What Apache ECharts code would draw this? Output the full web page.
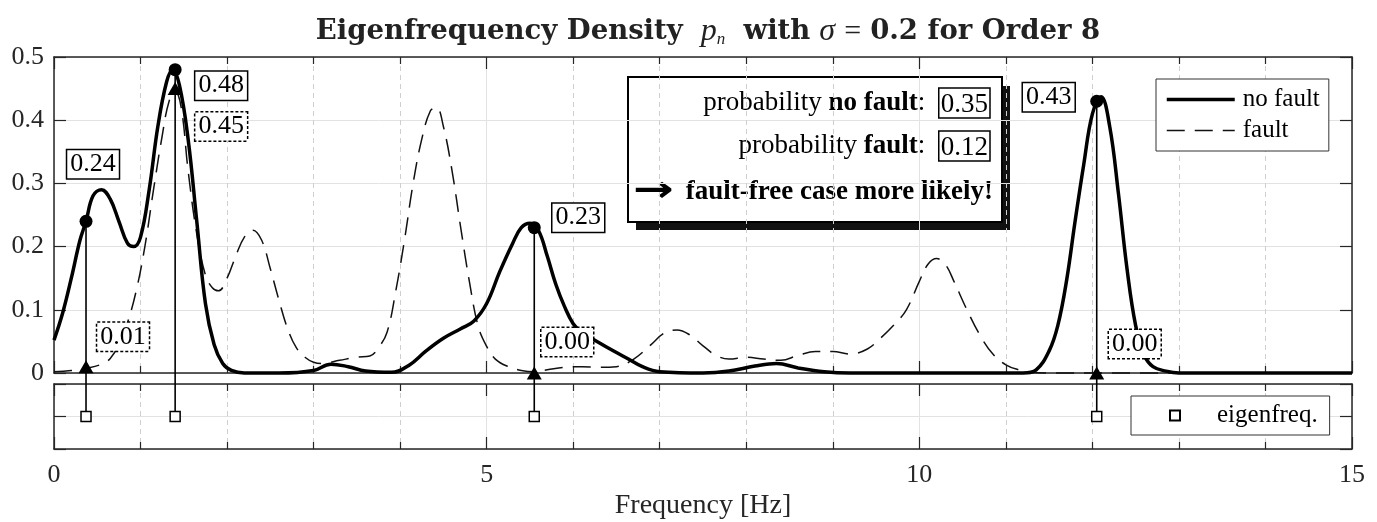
<!DOCTYPE html>
<html>
<head>
<meta charset="utf-8">
<script src="https://cdn.jsdelivr.net/npm/echarts@6/dist/echarts.min.js"></script>
<style>
  html, body { margin: 0; padding: 0; background: #fff; }
  #graph { width: 1377px; height: 522px; }
</style>
</head>
<body>
<div id="graph"></div>
<script>
// values
const fNoFault = [0, 0.1, 0.2, 0.3, 0.37, 0.45, 0.55, 0.65, 0.75, 0.85, 0.92, 1.0, 1.1, 1.2, 1.3, 1.37, 1.45, 1.55, 1.65, 1.75,
  1.85, 1.95, 2.05, 2.2, 2.6, 3.0, 3.2, 3.4, 3.6, 3.9, 4.1, 4.3, 4.5, 4.7, 4.85, 5.0, 5.15, 5.3, 5.4, 5.5,
  5.6, 5.7, 5.8, 5.9, 6.0, 6.1, 6.25, 6.4, 6.6, 6.8, 7.0, 7.5, 7.8, 8.1, 8.35, 8.6, 8.9, 9.2, 11.2, 11.35,
  11.5, 11.6, 11.7, 11.8, 11.9, 12.0, 12.1, 12.2, 12.3, 12.4, 12.5, 12.6, 12.7, 12.85, 13.0, 15.0];
const pNoFault = [0.052, 0.095, 0.15, 0.21, 0.24, 0.28, 0.29, 0.275, 0.24, 0.205, 0.2, 0.215, 0.29, 0.39, 0.46, 0.48, 0.455, 0.37, 0.24, 0.11,
  0.045, 0.015, 0.004, 0, 0, 0.004, 0.014, 0.01, 0.003, 0.001, 0.012, 0.035, 0.055, 0.07, 0.082, 0.11, 0.16, 0.205, 0.23, 0.237,
  0.225, 0.185, 0.14, 0.105, 0.078, 0.064, 0.052, 0.04, 0.025, 0.01, 0.002, 0, 0.003, 0.011, 0.015, 0.008, 0.002, 0, 0, 0.005,
  0.035, 0.075, 0.145, 0.24, 0.33, 0.41, 0.437, 0.39, 0.285, 0.165, 0.075, 0.028, 0.01, 0.003, 0, 0];

const fFault = [0, 0.2, 0.4, 0.55, 0.65, 0.75, 0.85, 0.95, 1.05, 1.15, 1.25, 1.33, 1.4, 1.47, 1.55, 1.65, 1.75, 1.83, 1.9, 2.0,
  2.1, 2.2, 2.3, 2.4, 2.5, 2.6, 2.7, 2.8, 2.9, 3.0, 3.1, 3.3, 3.5, 3.65, 3.75, 3.85, 3.95, 4.05, 4.15, 4.25,
  4.35, 4.42, 4.5, 4.6, 4.7, 4.8, 4.9, 5.0, 5.1, 5.25, 5.4, 5.55, 5.7, 5.9, 6.1, 6.3, 6.5, 6.7, 6.9, 7.05,
  7.2, 7.35, 7.5, 7.65, 7.8, 8.0, 8.2, 8.4, 8.6, 8.8, 9.0, 9.2, 9.4, 9.55, 9.7, 9.85, 10.0, 10.1, 10.2, 10.3,
  10.4, 10.55, 10.7, 10.85, 11.0, 11.15, 11.3, 11.5, 15.0];
const pFault = [0.002, 0.004, 0.008, 0.014, 0.023, 0.045, 0.08, 0.13, 0.2, 0.29, 0.375, 0.43, 0.445, 0.42, 0.32, 0.22, 0.155, 0.135, 0.13, 0.15,
  0.185, 0.215, 0.226, 0.21, 0.165, 0.115, 0.07, 0.04, 0.025, 0.017, 0.015, 0.02, 0.025, 0.027, 0.04, 0.065, 0.13, 0.21, 0.3, 0.37,
  0.415, 0.42, 0.39, 0.32, 0.23, 0.145, 0.075, 0.042, 0.022, 0.01, 0.004, 0.002, 0.005, 0.009, 0.01, 0.009, 0.01, 0.022, 0.045, 0.063,
  0.068, 0.06, 0.043, 0.028, 0.022, 0.025, 0.022, 0.02, 0.028, 0.034, 0.034, 0.03, 0.038, 0.055, 0.075, 0.1, 0.145, 0.172, 0.181, 0.172,
  0.145, 0.1, 0.06, 0.03, 0.013, 0.005, 0.001, 0, 0];

const eigenFreqs = [0.37, 1.4, 5.55, 12.05];
const pNoFaultAtEig = [0.24, 0.48, 0.23, 0.43];
const pFaultAtEig = [0.01, 0.45, 0.00, 0.00];
const probNoFault = 0.35;
const probFault = 0.12;

const FONT = 'Liberation Serif';
const AX = '#262626';
const GAP = 11; // px between the two plot boxes

// label box offsets (px) next to each marker
const noFaultLabelPos = [[7, -57], [46, 16], [44, -10], [-48, -4]];
const faultLabelPos = [[37, -30], [46, 38], [33, -31], [38, -29]];

const chart = echarts.init(document.getElementById('graph'));

function xAxisCfg(grid, pos, labels) {
  return {
    gridIndex: grid, type: 'value', min: 0, max: 15, interval: 5, position: pos,
    axisLine: { show: true, onZero: false, lineStyle: { color: AX, width: 1.5 } },
    axisTick: { show: true, inside: true, length: 12, lineStyle: { color: AX, width: 1.2 } },
    minorTick: { show: true, splitNumber: 5, length: 7, lineStyle: { color: AX, width: 1.2 } },
    splitLine: { show: pos === 'bottom', lineStyle: { color: '#e2e2e2', width: 1 } },
    minorSplitLine: { show: pos === 'bottom', lineStyle: { color: '#cfcfcf', width: 1, type: [5, 4] } },
    axisLabel: labels ? { show: true, fontFamily: FONT, fontSize: 26, color: AX, margin: 13, showMinLabel: true, showMaxLabel: true } : { show: false },
    name: labels ? 'Frequency [Hz]' : '',
    nameLocation: 'middle', nameGap: 43,
    nameTextStyle: { fontFamily: FONT, fontSize: 28, color: AX }
  };
}

function yAxisCfg(grid, pos, min, max, interval, labels) {
  return {
    gridIndex: grid, type: 'value', min: min, max: max, interval: interval, position: pos,
    axisLine: { show: true, onZero: false, lineStyle: { color: AX, width: 1.5 } },
    axisTick: { show: true, inside: true, length: 12, lineStyle: { color: AX, width: 1.2 } },
    splitLine: { show: pos === 'left', lineStyle: { color: '#e2e2e2', width: 1 } },
    axisLabel: labels ? { show: true, fontFamily: FONT, fontSize: 26, color: AX, margin: 10 } : { show: false }
  };
}

const boxLabel = (dotted) => ({
  fontFamily: FONT, fontSize: 26, color: '#000', backgroundColor: '#fff',
  borderColor: '#000', borderWidth: 1.5, borderType: dotted ? [3, 2] : 'solid',
  padding: [2, 3, 0, 3]
});

const option = {
  animation: false,
  backgroundColor: '#fff',
  title: {
    left: 703, top: 11, textAlign: 'center',
    text: '{b|Eigenfrequency Density}  {i|p}{sub|n}  {b|with} {i|σ} {n|=} {b|0.2 for Order 8}',
    textStyle: {
      fontFamily: 'DejaVu Serif', fontSize: 26, fontWeight: 'bold', color: '#222',
      rich: {
        b: { fontFamily: 'DejaVu Serif', fontSize: 27.5, fontWeight: 'bold', color: '#222', lineHeight: 32 },
        i: { fontFamily: FONT, fontSize: 32, fontStyle: 'italic', fontWeight: 'normal', color: '#222', lineHeight: 32 },
        sub: { fontFamily: FONT, fontSize: 17, fontStyle: 'italic', fontWeight: 'normal', color: '#222', lineHeight: 14, verticalAlign: 'bottom' },
        n: { fontFamily: FONT, fontSize: 30, fontWeight: 'normal', color: '#222', lineHeight: 32 }
      }
    }
  },
  grid: [
    { left: 54, right: 25, top: 57, height: 316 },
    { left: 54, right: 25, top: 384, height: 65 }
  ],
  xAxis: [xAxisCfg(0, 'bottom', false), xAxisCfg(0, 'top', false), xAxisCfg(1, 'bottom', true), xAxisCfg(1, 'top', false)],
  yAxis: [yAxisCfg(0, 'left', 0, 0.5, 0.1, true), yAxisCfg(0, 'right', 0, 0.5, 0.1, false),
          yAxisCfg(1, 'left', -1, 1, 1, false), yAxisCfg(1, 'right', -1, 1, 1, false)],
  legend: [
    {
      data: [
        { name: 'no fault', lineStyle: { width: 3.5, color: '#000' } },
        { name: 'fault', lineStyle: { width: 1.5, color: '#111', type: [18, 10] } }
      ],
      orient: 'vertical', left: 1156, top: 79,
      backgroundColor: '#fff', borderColor: '#333', borderWidth: 1,
      padding: [8, 9, 8, 9], itemGap: 6, itemWidth: 68, itemHeight: 14,
      itemStyle: { color: 'rgba(0,0,0,0)', borderWidth: 0 },
      textStyle: { fontFamily: FONT, fontSize: 25, color: '#000', lineHeight: 24, padding: [0, 0, 0, 3] }
    },
    {
      data: ['eigenfreq.'], left: 1131, top: 396,
      backgroundColor: '#fff', borderColor: '#333', borderWidth: 1,
      padding: [7, 12, 7, 38], itemWidth: 10, itemHeight: 10,
      textStyle: { fontFamily: FONT, fontSize: 25, color: '#000', lineHeight: 24, padding: [0, 0, 0, 32] }
    }
  ],
  series: [
    {
      name: 'no fault', type: 'line', xAxisIndex: 0, yAxisIndex: 0,
      data: fNoFault.map((f, i) => [f, pNoFault[i]]),
      smooth: 0.4, symbol: 'none', clip: false, z: 3,
      itemStyle: { color: '#000' },
      lineStyle: { color: '#000', width: 3.5 }
    },
    {
      name: 'fault', type: 'line', xAxisIndex: 0, yAxisIndex: 0,
      data: fFault.map((f, i) => [f, pFault[i]]),
      smooth: 0.4, symbol: 'none', clip: false, z: 2,
      itemStyle: { color: '#111' },
      lineStyle: { color: '#111', width: 1.5, type: [18, 10] }
    },
    {
      // stems in the upper box
      type: 'custom', xAxisIndex: 0, yAxisIndex: 0, z: 4,
      data: eigenFreqs.map((f, i) => [f, pNoFaultAtEig[i]]),
      encode: { x: 0, y: 1 },
      renderItem: (params, api) => {
        const top = api.coord([api.value(0), api.value(1)]);
        const bot = api.coord([api.value(0), 0]);
        return { type: 'line', shape: { x1: bot[0], y1: bot[1], x2: top[0], y2: top[1] }, style: { stroke: '#000', lineWidth: 1.6 } };
      }
    },
    {
      // stems in the lower box, bridging the gap
      type: 'custom', xAxisIndex: 2, yAxisIndex: 2, z: 4, clip: false,
      data: eigenFreqs.map((f) => [f, 0]),
      encode: { x: 0, y: 1 },
      renderItem: (params, api) => {
        const p = api.coord([api.value(0), api.value(1)]);
        return { type: 'line', shape: { x1: p[0], y1: p[1], x2: p[0], y2: params.coordSys.y - GAP }, style: { stroke: '#000', lineWidth: 1.6 } };
      }
    },
    {
      type: 'scatter', xAxisIndex: 0, yAxisIndex: 0, z: 6,
      symbol: 'triangle', symbolSize: [15, 13],
      itemStyle: { color: '#000', opacity: 1 },
      data: eigenFreqs.map((f, i) => ({
        value: [f, pFaultAtEig[i]],
        label: Object.assign({ show: true, position: 'inside', offset: faultLabelPos[i],
          formatter: (p) => p.value[1].toFixed(2) }, boxLabel(true))
      }))
    },
    {
      type: 'scatter', xAxisIndex: 0, yAxisIndex: 0, z: 7,
      symbol: 'circle', symbolSize: 13,
      itemStyle: { color: '#000', opacity: 1 },
      data: eigenFreqs.map((f, i) => ({
        value: [f, pNoFaultAtEig[i]],
        label: Object.assign({ show: true, position: 'inside', offset: noFaultLabelPos[i],
          formatter: (p) => p.value[1].toFixed(2) }, boxLabel(false))
      }))
    },
    {
      name: 'eigenfreq.', type: 'scatter', xAxisIndex: 2, yAxisIndex: 2, z: 6,
      symbol: 'rect', symbolSize: 10,
      itemStyle: { color: '#fff', borderColor: '#000', borderWidth: 1.5, opacity: 1 },
      data: eigenFreqs.map((f) => [f, 0])
    }
  ],
  graphic: [
    {
      type: 'group', z: 100,
      children: [
        { type: 'rect', shape: { x: 636, y: 86, width: 374, height: 144 }, style: { fill: '#111' } },
        { type: 'rect', shape: { x: 628, y: 77, width: 374, height: 145 }, style: { fill: '#fff', stroke: '#000', lineWidth: 2 } },
        {
          type: 'text', style: {
            x: 990, y: 103, align: 'right', verticalAlign: 'middle',
            text: '{n|probability }{b|no fault}{n|:  }{box|' + probNoFault.toFixed(2) + '}',
            rich: {
              n: { fontFamily: FONT, fontSize: 27, fill: '#000' },
              b: { fontFamily: FONT, fontSize: 27, fontWeight: 'bold', fill: '#000' },
              box: { fontFamily: FONT, fontSize: 27, fill: '#000', borderColor: '#000', borderWidth: 1.5, padding: [3, 2, 0, 2] }
            }
          }
        },
        {
          type: 'text', style: {
            x: 990, y: 146, align: 'right', verticalAlign: 'middle',
            text: '{n|probability }{b|fault}{n|:  }{box|' + probFault.toFixed(2) + '}',
            rich: {
              n: { fontFamily: FONT, fontSize: 27, fill: '#000' },
              b: { fontFamily: FONT, fontSize: 27, fontWeight: 'bold', fill: '#000' },
              box: { fontFamily: FONT, fontSize: 27, fill: '#000', borderColor: '#000', borderWidth: 1.5, borderType: [3, 2], padding: [3, 2, 0, 2] }
            }
          }
        },
        {
          type: 'text', x: 633, y: 192, scaleX: 1.35,
          style: { x: 0, y: 0, align: 'left', verticalAlign: 'middle', text: '→', fontFamily: 'DejaVu Sans', fontWeight: 'bold', fontSize: 36, fill: '#000' }
        },
        {
          type: 'text', style: {
            x: 993, y: 192, align: 'right', verticalAlign: 'middle',
            text: 'fault-free case more likely!', fontFamily: FONT, fontWeight: 'bold', fontSize: 27, fill: '#000'
          }
        }
      ]
    }
  ]
};

chart.setOption(option);
</script>
</body>
</html>
